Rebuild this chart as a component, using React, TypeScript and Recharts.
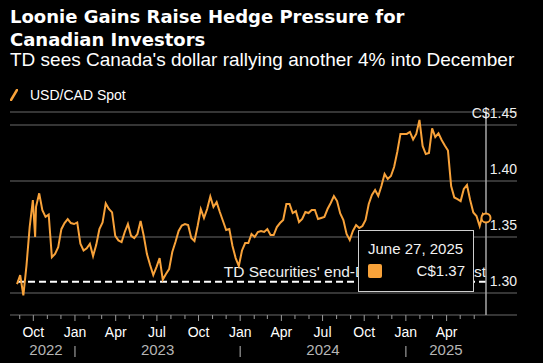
import { CartesianGrid, Line, LineChart, ReferenceLine, Tooltip, XAxis, YAxis } from "recharts";

const dates = [
  "2022-08-26", "2022-09-02", "2022-09-09", "2022-09-16", "2022-09-23", "2022-09-30", "2022-10-05",
  "2022-10-07", "2022-10-14", "2022-10-21", "2022-10-28", "2022-11-04", "2022-11-11", "2022-11-18",
  "2022-11-25", "2022-12-02", "2022-12-09", "2022-12-16", "2022-12-23", "2022-12-30",
  "2023-01-06", "2023-01-13", "2023-01-20", "2023-01-27", "2023-02-03", "2023-02-10", "2023-02-17",
  "2023-02-24", "2023-03-03", "2023-03-10", "2023-03-17", "2023-03-24", "2023-03-31", "2023-04-07",
  "2023-04-14", "2023-04-21", "2023-04-28", "2023-05-05", "2023-05-12", "2023-05-19", "2023-05-26",
  "2023-06-02", "2023-06-09", "2023-06-16", "2023-06-23", "2023-06-30", "2023-07-07", "2023-07-14",
  "2023-07-21", "2023-07-28", "2023-08-04", "2023-08-11", "2023-08-18", "2023-08-25", "2023-09-01",
  "2023-09-08", "2023-09-15", "2023-09-22", "2023-09-29", "2023-10-06", "2023-10-13", "2023-10-20",
  "2023-10-27", "2023-11-03", "2023-11-10", "2023-11-17", "2023-11-24", "2023-12-01", "2023-12-08",
  "2023-12-15", "2023-12-22", "2023-12-29",
  "2024-01-05", "2024-01-12", "2024-01-19", "2024-01-26", "2024-02-02", "2024-02-09", "2024-02-16",
  "2024-02-23", "2024-03-01", "2024-03-08", "2024-03-15", "2024-03-22", "2024-03-29", "2024-04-05",
  "2024-04-12", "2024-04-19", "2024-04-26", "2024-05-03", "2024-05-10", "2024-05-17", "2024-05-24",
  "2024-05-31", "2024-06-07", "2024-06-14", "2024-06-21", "2024-06-28", "2024-07-05", "2024-07-12",
  "2024-07-19", "2024-07-26", "2024-08-02", "2024-08-09", "2024-08-16", "2024-08-23", "2024-08-30",
  "2024-09-06", "2024-09-13", "2024-09-20", "2024-09-27", "2024-10-04", "2024-10-11", "2024-10-18",
  "2024-10-25", "2024-11-01", "2024-11-08", "2024-11-15", "2024-11-22", "2024-11-29", "2024-12-06",
  "2024-12-13", "2024-12-20", "2024-12-27",
  "2025-01-03", "2025-01-10", "2025-01-17", "2025-01-24", "2025-01-31", "2025-02-07", "2025-02-14",
  "2025-02-21", "2025-02-28", "2025-03-07", "2025-03-14", "2025-03-21", "2025-03-28", "2025-04-04",
  "2025-04-11", "2025-04-18", "2025-04-25", "2025-05-02", "2025-05-09", "2025-05-16", "2025-05-23",
  "2025-05-30", "2025-06-06", "2025-06-13", "2025-06-20", "2025-06-27",
];

const usdCad = [
  1.308, 1.316, 1.298, 1.325, 1.359, 1.383, 1.350,
  1.377, 1.389, 1.374, 1.368, 1.370, 1.332, 1.335,
  1.341, 1.357, 1.3625, 1.366, 1.3625, 1.3616,
  1.363, 1.344, 1.338, 1.340, 1.344, 1.333, 1.343,
  1.357, 1.363, 1.380, 1.375, 1.372, 1.351, 1.347,
  1.3455, 1.3545, 1.3616, 1.351, 1.349, 1.3527, 1.3643,
  1.351, 1.3348, 1.325, 1.316, 1.3232, 1.3312, 1.312,
  1.317, 1.3214, 1.3366, 1.3455, 1.3554, 1.3603, 1.3616,
  1.3607, 1.3491, 1.3464, 1.3598, 1.375, 1.367, 1.375,
  1.3862, 1.3768, 1.3812, 1.3723, 1.3643, 1.3563, 1.3571,
  1.342, 1.3312, 1.3241,
  1.338, 1.3446, 1.3446, 1.3527, 1.350, 1.3545, 1.3554,
  1.3545, 1.3571, 1.3518, 1.3518, 1.3589, 1.3625, 1.3652,
  1.3795, 1.3795, 1.3714, 1.3732, 1.3634, 1.3661, 1.3723,
  1.3714, 1.3741, 1.3741, 1.3661, 1.367, 1.3679, 1.375,
  1.3804, 1.3866, 1.3821, 1.371, 1.3652, 1.3527, 1.3473,
  1.3554, 1.3607, 1.358, 1.3598, 1.3652, 1.3795, 1.3875,
  1.392, 1.3866, 1.3955, 1.4063, 1.4018, 1.4045, 1.4125,
  1.4259, 1.442, 1.442,
  1.442, 1.4438, 1.437, 1.442, 1.4545, 1.4313, 1.4241,
  1.425, 1.4469, 1.4393, 1.4426, 1.4366, 1.4317, 1.4272,
  1.3955, 1.3853, 1.3839, 1.3821, 1.3929, 1.3964, 1.383,
  1.3719, 1.3688, 1.3598, 1.3705, 1.367,
];

const forecast = 1.31;
const yTicks = [1.3, 1.35, 1.4, 1.45];
const quarterLabels: Record<number, string> = { 0: "Jan", 3: "Apr", 6: "Jul", 9: "Oct" };
const yearLabels = ["2022", "2023", "2024", "2025"];

const ORANGE = "#f8a23a";
const FONT = '"Liberation Sans", Arial, sans-serif';

const data = dates.map((d, i) => ({ t: Date.parse(d), v: usdCad[i] }));
const firstT = data[0].t;
const lastT = data[data.length - 1].t;

// monthly ticks Sep 2022 .. Jun 2025
const monthTicks: number[] = [];
for (let y = 2022, m = 8; y < 2025 || m <= 5; m++) {
  if (m > 11) { m = 0; y++; }
  monthTicks.push(Date.UTC(y, m, 1));
}
// year labels sit in the middle of the part of each year that has data
const yearTicks = yearLabels.map((yr) => {
  const a = Math.max(firstT, Date.UTC(+yr, 0, 1));
  const b = Math.min(lastT, Date.UTC(+yr + 1, 0, 1));
  return Math.round((a + b) / 2);
});
const allTicks = [...monthTicks, ...yearTicks].sort((a, b) => a - b);

function XTick({ x, y, payload }: any) {
  const v = payload.value as number;
  const yi = yearTicks.indexOf(v);
  if (yi >= 0) {
    return (
      <text x={x} y={y + 40} textAnchor="middle" fill="#b5b5b5" fontSize={15} fontFamily={FONT}>
        {yearLabels[yi]}
      </text>
    );
  }
  const m = new Date(v).getUTCMonth();
  const q = quarterLabels[m];
  return (
    <g>
      <line x1={x} x2={x} y1={y} y2={y + (q ? 6 : 4)} stroke="#9a9a9a" strokeWidth={1} />
      {q && (
        <text x={x} y={y + 22} textAnchor="middle" fill="#fff" fontSize={14} fontFamily={FONT}>{q}</text>
      )}
      {m === 0 && <line x1={x} x2={x} y1={y + 31} y2={y + 42} stroke="#9a9a9a" strokeWidth={1.2} />}
    </g>
  );
}

function YTick({ x, y, payload }: any) {
  const v = payload.value as number;
  return (
    <text x={x} y={y - 7} textAnchor="end" fill="#f0f0f0" fontSize={14} fontFamily={FONT}>
      {v === 1.45 ? "C$1.45" : v.toFixed(2)}
    </text>
  );
}

function ForecastLabel({ viewBox }: any) {
  return (
    <text x={viewBox.x + viewBox.width} y={viewBox.y - 5} textAnchor="end" fill="#f0f0f0"
          fontSize={15.5} fontFamily={FONT}>
      TD Securities' end-December forecast
    </text>
  );
}

function TipBox({ active, payload, label }: any) {
  if (!active || !payload || !payload.length) return null;
  const day = new Date(label).toLocaleDateString("en-US",
    { month: "long", day: "numeric", year: "numeric", timeZone: "UTC" });
  return (
    <div style={{
      width: 116, height: 62, boxSizing: "border-box", background: "#000", border: "1px solid #cfcfcf",
      padding: "8px 8px 10px 9px", color: "#f2f2f2", fontFamily: FONT, fontSize: 15,
    }}>
      <div style={{ height: 20, lineHeight: "20px", whiteSpace: "nowrap" }}>{day}</div>
      <div style={{ height: 20, marginTop: 2, display: "flex", alignItems: "center", justifyContent: "space-between" }}>
        <span style={{ width: 14, height: 14, background: ORANGE, borderRadius: 2 }} />
        <span style={{ lineHeight: "20px" }}>C${Number(payload[0].value).toFixed(2)}</span>
      </div>
    </div>
  );
}

export default function App() {
  return (
    <div style={{ position: "relative", width: 543, height: 363, background: "#000", overflow: "hidden" }}>
      <style>{"body{margin:0}"}</style>
      <div style={{ position: "absolute", left: 10, top: 5, color: "#fff", fontFamily: '"DejaVu Sans", sans-serif',
                    fontWeight: 700, fontSize: 18, lineHeight: "23px" }}>
        Loonie Gains Raise Hedge Pressure for<br />Canadian Investors
      </div>
      <div style={{ position: "absolute", left: 10, top: 50, color: "#fff", fontFamily: FONT, fontSize: 19,
                    lineHeight: "20px", whiteSpace: "nowrap" }}>
        TD sees Canada's dollar rallying another 4% into December
      </div>
      <div style={{ position: "absolute", left: 10, top: 87, display: "flex", alignItems: "center",
                    color: "#fff", fontFamily: FONT, fontSize: 14 }}>
        <svg width={8} height={12} style={{ marginRight: 12 }}>
          <line x1={1} y1={11} x2={7} y2={1} stroke={ORANGE} strokeWidth={2.5} strokeLinecap="round" />
        </svg>
        USD/CAD Spot
      </div>
      <div style={{ position: "absolute", left: 0, top: 0 }}>
        <LineChart width={543} height={363} data={data} margin={{ top: 112, right: 0, bottom: 0, left: 10 }}>
          <CartesianGrid vertical={false} stroke="#474747" strokeWidth={1.5} />
          <XAxis dataKey="t" type="number" scale="linear"
                 domain={[Date.UTC(2022, 7, 10, 12), Date.UTC(2025, 8, 3, 12)]}
                 ticks={allTicks} interval={0} height={48} tick={<XTick />}
                 axisLine={false} tickLine={false} tickSize={0} tickMargin={0} />
          <YAxis orientation="right" width={26} domain={[1.2804, 1.4616]} ticks={yTicks}
                 axisLine={false} tickLine={false} tickSize={0} tickMargin={0} tick={<YTick />} />
          <ReferenceLine segment={[{ x: firstT, y: forecast }, { x: lastT, y: forecast }]}
                         stroke="#fff" strokeWidth={2} strokeDasharray="7 4" label={<ForecastLabel />} />
          <Line type="linear" dataKey="v" stroke={ORANGE} strokeWidth={2} dot={false}
                isAnimationActive={false}
                activeDot={{ r: 4.5, fill: "#000", stroke: ORANGE, strokeWidth: 2 }} />
          <Tooltip defaultIndex={data.length - 1} active position={{ x: 358, y: 230 }}
                   cursor={{ stroke: "#a8a8a8", strokeWidth: 1.5 }} isAnimationActive={false}
                   content={<TipBox />} />
        </LineChart>
      </div>
    </div>
  );
}
